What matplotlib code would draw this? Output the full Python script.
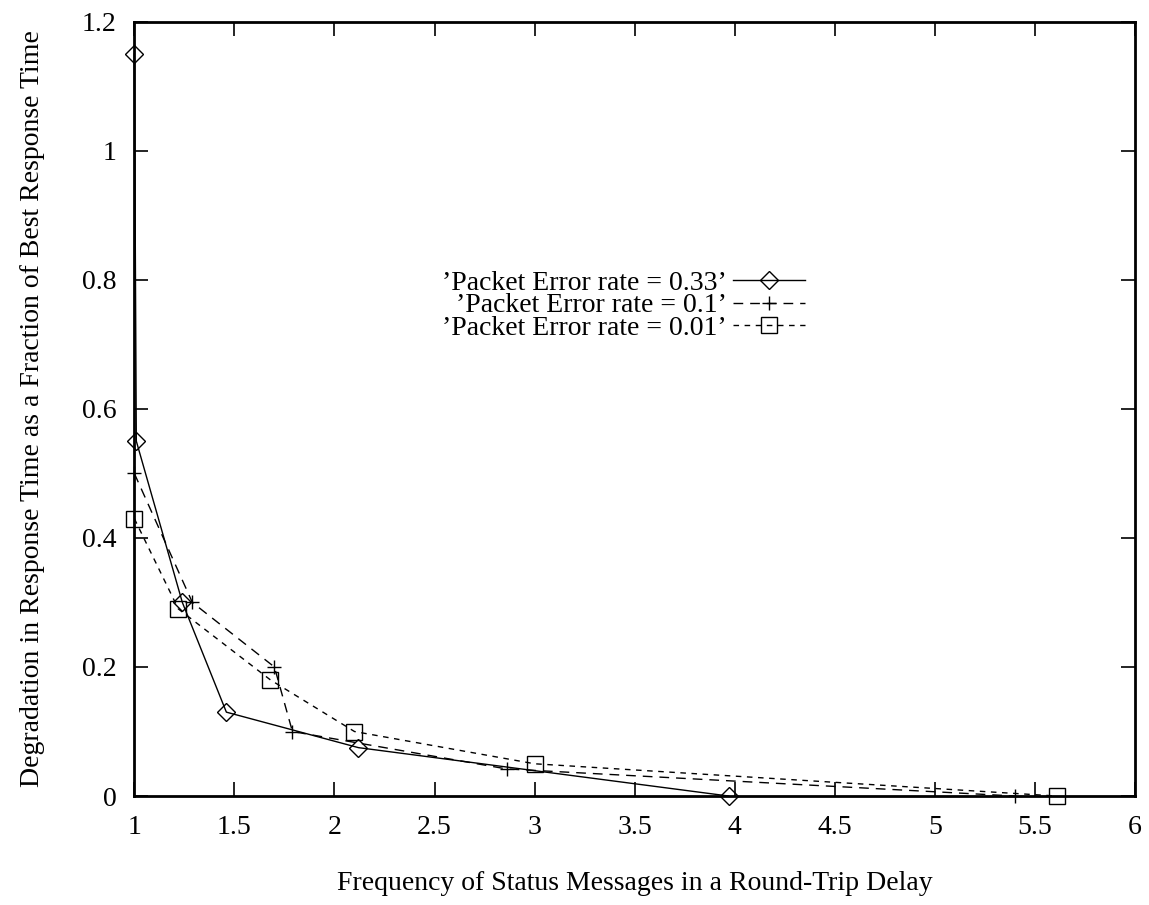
import numpy as np
import matplotlib
matplotlib.use('Agg')
import matplotlib.pyplot as plt

plt.rcParams['font.family'] = ['Liberation Serif', 'DejaVu Serif']
plt.rcParams['font.size'] = 20

# Packet error rate = 0.33
x_033 = [1.0, 1.01, 1.24, 1.46, 2.12, 3.97]
y_033 = [1.15, 0.55, 0.30, 0.13, 0.075, 0.0]

# Packet error rate = 0.1
x_01 = [1.0, 1.29, 1.70, 1.79, 2.86, 5.40]
y_01 = [0.50, 0.30, 0.20, 0.10, 0.042, 0.0]

# Packet error rate = 0.01
x_001 = [1.0, 1.22, 1.68, 2.10, 3.0, 5.61]
y_001 = [0.43, 0.29, 0.18, 0.10, 0.05, 0.0]

labels = ["\u2019Packet Error rate = 0.33\u2019",
          "\u2019Packet Error rate = 0.1\u2019",
          "\u2019Packet Error rate = 0.01\u2019"]
xticks = [1, 1.5, 2, 2.5, 3, 3.5, 4, 4.5, 5, 5.5, 6]
yticks = [0, 0.2, 0.4, 0.6, 0.8, 1, 1.2]

fig = plt.figure(figsize=(11.49, 9.05), dpi=100)
ax = fig.add_axes([0.1169, 0.1204, 0.8709, 0.8556])

ax.plot(x_033, y_033, color='black', lw=1.0, marker='D', ms=9, mfc='none', mec='black', mew=1.0,
        clip_on=False, label=labels[0])
ax.plot(x_01, y_01, color='black', lw=1.0, ls=(0, (7, 5)), marker='+', ms=10, mew=1.0,
        clip_on=False, label=labels[1])
ax.plot(x_001, y_001, color='black', lw=1.0, ls=(0, (4, 4)), marker='s', ms=11, mfc='none', mec='black', mew=1.0,
        clip_on=False, label=labels[2])

ax.set_xlim(1, 6)
ax.set_ylim(0, 1.2)
ax.set_xticks(xticks)
ax.set_xticklabels(['1', '1.5', '2', '2.5', '3', '3.5', '4', '4.5', '5', '5.5', '6'])
ax.set_yticks(yticks)
ax.set_yticklabels(['0', '0.2', '0.4', '0.6', '0.8', '1', '1.2'])
ax.tick_params(direction='in', length=10, width=1.2, top=True, right=True, pad=14)
ax.tick_params(axis='y', pad=13)
for s in ax.spines.values():
    s.set_linewidth(2)

ax.set_xlabel('Frequency of Status Messages in a Round-Trip Delay', labelpad=22)
ax.set_ylabel('Degradation in Response Time as a Fraction of Best Response Time', labelpad=26)

ax.legend(loc='upper right', bbox_to_anchor=(0.670, 0.679), frameon=False, markerfirst=False,
          handlelength=2.6, handletextpad=0.2, labelspacing=-0.1, borderpad=0, borderaxespad=0)

fig.savefig('out.png', dpi=100)
